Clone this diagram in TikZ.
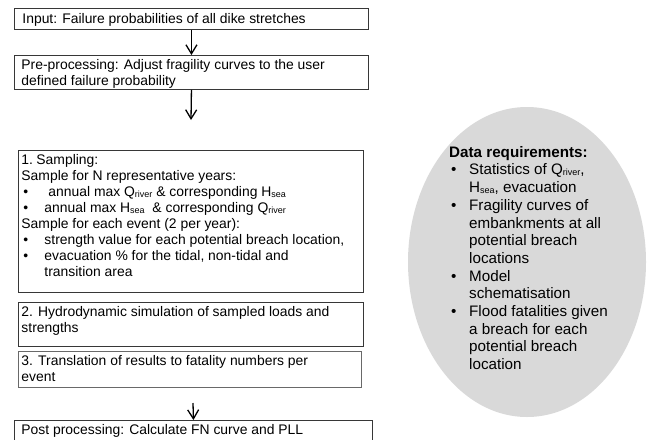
\documentclass[tikz,border=0pt]{standalone}
\usepackage{fontspec}
\setmainfont{Liberation Sans}
\usetikzlibrary{arrows.meta,shapes.geometric}
\definecolor{boxline}{RGB}{55,55,55}
\definecolor{ellfill}{RGB}{217,217,217}
\newcommand\sbx[1]{\raisebox{-0.8pt}{\fontsize{9}{9}\selectfont #1}}
\newcommand\bul{\makebox[23pt][l]{\hspace*{2pt}\textbullet}}
\newcommand\ebul{\makebox[20pt][l]{\hspace*{2pt}\textbullet}}
\newcommand\boxtxt[4]{\parbox[t][#2pt][t]{#1pt}{\fontsize{13.9}{16}\selectfont\raggedright\rule{0pt}{#3pt}#4}}
\tikzset{
  flowbox/.style={draw=boxline, line width=0.9pt, inner ysep=0pt, anchor=north west},
  flowarrow/.style={-{Straight Barb[length=9pt,width=11pt]}, line width=1.3pt},
}
\begin{document}
\begin{tikzpicture}[x=1pt,y=-1pt]
\useasboundingbox (0,0) rectangle (647,439);
% ellipse
\node[ellipse, fill=ellfill, minimum width=238pt, minimum height=310pt, inner sep=0pt] (ell) at (527,262) {};
\node[anchor=north west, inner sep=0pt] (req) at (449,144) {\parbox[t]{190pt}{\fontsize{15.2}{17.7}\selectfont\raggedright\rule{0pt}{13pt}\textbf{Data requirements:}\\
\ebul Statistics of Q\sbx{river},\\
\hspace*{20pt}H\sbx{sea}, evacuation\\
\ebul Fragility curves of\\
\hspace*{20pt}embankments at all\\
\hspace*{20pt}potential breach\\
\hspace*{20pt}locations\\
\ebul Model\\
\hspace*{20pt}schematisation\\
\ebul Flood fatalities given\\
\hspace*{20pt}a breach for each\\
\hspace*{20pt}potential breach\\
\hspace*{20pt}location}};
% boxes
\node[flowbox, inner xsep=8pt] (input) at (14,8) {\boxtxt{338}{21}{15}{Input: Failure probabilities of all dike stretches}};
\node[flowbox, inner xsep=7pt] (pre) at (14,55) {\boxtxt{340}{34}{14}{Pre-processing: Adjust fragility curves to the user\\defined failure probability}};
\node[flowbox, inner xsep=3pt] (samp) at (18,150) {\boxtxt{339}{142}{14}{\makebox[15pt][l]{1.}Sampling:\\
Sample for N representative years:\\
\bul\hspace{4pt}annual max Q\sbx{river} \& corresponding H\sbx{sea}\\
\bul annual max H\sbx{sea}\ \ \& corresponding Q\sbx{river}\\
Sample for each event (2 per year):\\
\bul strength value for each potential breach location,\\
\bul evacuation \% for the tidal, non-tidal and\\
\hspace*{23pt}transition area}};
\node[flowbox, inner xsep=3pt] (hydro) at (18,302) {\boxtxt{339}{44}{14}{2. Hydrodynamic simulation of sampled loads and\\strengths}};
\node[flowbox, inner xsep=3pt, draw=boxline!75] (transl) at (18,351) {\boxtxt{337}{36}{14}{3. Translation of results to fatality numbers per\\event}};
\node[flowbox, inner xsep=7pt] (post) at (14,420) {\boxtxt{344}{30}{14}{Post processing: Calculate FN curve and PLL}};
% arrows
\coordinate (a2end) at (191,120);
\coordinate (a3start) at (193,403);
\draw[flowarrow] (input.south) -- (pre.north);
\draw[flowarrow] (pre.south) -- (a2end);
\draw[flowarrow] (a3start) -- (post.north);
\end{tikzpicture}
\end{document}
